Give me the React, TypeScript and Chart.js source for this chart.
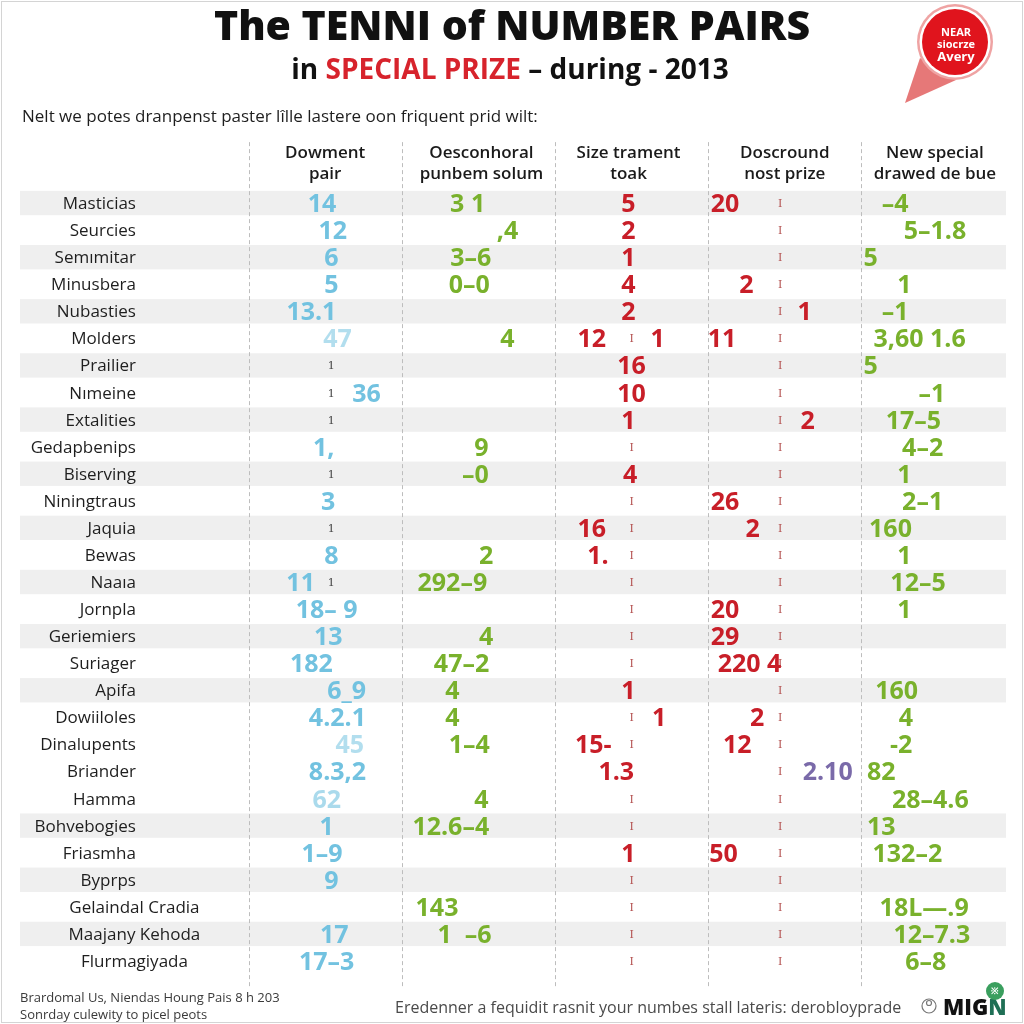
import React, { useEffect, useRef } from "react";
import { Chart, registerables } from "chart.js";

Chart.register(...registerables);

// ---------- data ----------
const rowLabels = [
  "Masticias", "Seurcies", "Semımitar", "Minusbera", "Nubasties", "Molders", "Prailier",
  "Nımeine", "Extalities", "Gedapbenips", "Biserving", "Niningtraus", "Jaquia", "Bewas",
  "Naaıa", "Jornpla", "Geriemiers", "Suriager", "Apifa", "Dowiiloles", "Dinalupents",
  "Briander", "Hamma", "Bohvebogies", "Friasmha", "Byprps", "Gelaindal Cradia",
  "Maajany Kehoda", "Flurmagiyada",
];
const centeredLabelRows = [26, 27, 28];
const bandRows = [0, 2, 4, 6, 8, 10, 12, 14, 16, 18, 23, 25, 27];

const columnHeaders = [
  ["Dowment", "pair"],
  ["Oesconhoral", "punbem solum"],
  ["Size trament", "toak"],
  ["Doscround", "nost prize"],
  ["New special", "drawed de bue"],
];
const headerPositions = [0.5, 1.52, 2.48, 3.5, 4.48];
const separatorPositions = [0, 1, 2, 3, 4];

// [row, position (column units), text, opacity]
type Cell = [number, number, string, number?];

const dowmentCells: Cell[] = [
  [0, 0.48, "14"], [1, 0.55, "12"], [2, 0.54, "6"], [3, 0.54, "5"], [4, 0.41, "13.1"],
  [5, 0.58, "47", 0.55], [7, 0.77, "36"], [9, 0.49, "1,"], [11, 0.52, "3"], [13, 0.54, "8"],
  [14, 0.34, "11"], [15, 0.51, "18– 9"], [16, 0.52, "13"], [17, 0.41, "182"],
  [18, 0.64, "6_9"], [19, 0.58, "4.2.1"], [20, 0.66, "45", 0.55], [21, 0.58, "8.3,2"],
  [22, 0.51, "62", 0.6], [23, 0.51, "1"], [24, 0.48, "1–9"], [25, 0.54, "9"],
  [27, 0.56, "17"], [28, 0.51, "17–3"],
];
const dowmentMarks: Cell[] = [
  [6, 0.54, "1"], [7, 0.54, "1"], [8, 0.54, "1"], [10, 0.54, "1"], [12, 0.54, "1"], [14, 0.54, "1"],
];

const oesconCells: Cell[] = [
  [0, 1.43, "3 1"], [1, 1.69, ",4"], [2, 1.45, "3–6"], [3, 1.44, "0–0"], [5, 1.69, "4"],
  [9, 1.52, "9"], [10, 1.48, "–0"], [13, 1.55, "2"], [14, 1.33, "292–9"], [16, 1.55, "4"],
  [17, 1.39, "47–2"], [18, 1.33, "4"], [19, 1.33, "4"], [20, 1.44, "1–4"], [22, 1.52, "4"],
  [23, 1.32, "12.6–4"], [26, 1.23, "143"], [27, 1.41, "1  –6"],
];

const sizeCells: Cell[] = [
  [0, 2.48, "5"], [1, 2.48, "2"], [2, 2.48, "1"], [3, 2.48, "4"], [4, 2.48, "2"],
  [5, 2.24, "12"], [5, 2.67, "1"], [6, 2.5, "16"], [7, 2.5, "10"], [8, 2.48, "1"],
  [10, 2.49, "4"], [12, 2.24, "16"], [13, 2.28, "1."], [18, 2.48, "1"], [19, 2.68, "1"],
  [20, 2.25, "15-"], [21, 2.4, "1.3"], [24, 2.48, "1"],
];
const sizeMarkRows = [5, 9, 11, 12, 13, 14, 15, 16, 17, 19, 20, 22, 23, 25, 26, 27, 28];

const doscroundCells: Cell[] = [
  [0, 3.11, "20"], [3, 3.25, "2"], [4, 3.63, "1"], [5, 3.09, "11"], [8, 3.65, "2"],
  [11, 3.11, "26"], [12, 3.29, "2"], [15, 3.11, "20"], [16, 3.11, "29"], [17, 3.27, "220 4"],
  [19, 3.32, "2"], [20, 3.19, "12"], [24, 3.1, "50"],
];
const doscroundMarkRows = rowLabels.map((_, i) => i);
const purpleCells: Cell[] = [[21, 3.78, "2.10"]];

const newSpecialCells: Cell[] = [
  [0, 4.22, "–4"], [1, 4.48, "5–1.8"], [2, 4.06, "5"], [3, 4.28, "1"], [4, 4.22, "–1"],
  [5, 4.38, "3,60 1.6"], [6, 4.06, "5"], [7, 4.46, "–1"], [8, 4.34, "17–5"], [9, 4.4, "4–2"],
  [10, 4.28, "1"], [11, 4.4, "2–1"], [12, 4.19, "160"], [13, 4.28, "1"], [14, 4.37, "12–5"],
  [15, 4.28, "1"], [18, 4.23, "160"], [19, 4.29, "4"], [20, 4.26, "-2"], [21, 4.13, "82"],
  [22, 4.45, "28–4.6"], [23, 4.13, "13"], [24, 4.3, "132–2"], [26, 4.41, "18L—.9"],
  [27, 4.46, "12–7.3"], [28, 4.42, "6–8"],
];

// ---------- styles ----------
const BLUE = "#72c2e0";
const GREEN = "#79b12c";
const RED = "#c81e28";
const PURPLE = "#7a6aa9";
const NUM_FONT = "bold 25px 'Open Sans'";
const MARK_FONT = "11px 'DejaVu Serif'";

const toPoints = (cells: Cell[]) =>
  cells.map(([r, p, t, a]) => ({ x: p, y: r, t, a: a ?? 1 }));
const marksFrom = (rows: number[], pos: number, t: string): Cell[] => rows.map((r) => [r, pos, t]);

const tablePlugin = {
  id: "tableText",
  beforeDraw(chart: any) {
    const { ctx } = chart;
    ctx.save();
    ctx.fillStyle = "#ffffff";
    ctx.fillRect(0, 0, chart.width, chart.height);
    ctx.restore();
  },
  beforeDatasetsDraw(chart: any) {
    const { ctx, chartArea } = chart;
    const x = chart.scales.x;
    const y = chart.scales.y;
    ctx.save();
    // frame
    ctx.strokeStyle = "#d4d4d4";
    ctx.lineWidth = 1;
    ctx.strokeRect(1.5, 1.5, chart.width - 3, chart.height - 3);

    // title
    ctx.fillStyle = "#111";
    ctx.textAlign = "center";
    ctx.textBaseline = "alphabetic";
    ctx.font = "800 41px 'Open Sans'";
    ctx.fillText("The TENNI of NUMBER PAIRS", 512, 40);

    // subtitle with red part
    ctx.font = "bold 28px 'Open Sans'";
    const parts: [string, string][] = [["in ", "#111"], ["SPECIAL PRIZE", "#d7232c"], [" – during - 2013", "#111"]];
    const total = parts.reduce((s, [t]) => s + ctx.measureText(t).width, 0);
    let sx = 510 - total / 2;
    ctx.textAlign = "left";
    parts.forEach(([t, c]) => {
      ctx.fillStyle = c;
      ctx.fillText(t, sx, 79);
      sx += ctx.measureText(t).width;
    });

    // badge
    ctx.fillStyle = "rgba(226, 96, 96, 0.85)";
    ctx.beginPath();
    ctx.moveTo(920, 58);
    ctx.lineTo(905, 103);
    ctx.lineTo(956, 80);
    ctx.closePath();
    ctx.fill();
    ctx.beginPath();
    ctx.arc(955, 42, 38, 0, Math.PI * 2);
    ctx.fillStyle = "#efa3a3";
    ctx.fill();
    ctx.beginPath();
    ctx.arc(955, 42, 35.5, 0, Math.PI * 2);
    ctx.fillStyle = "#ffffff";
    ctx.fill();
    ctx.beginPath();
    ctx.arc(955, 42, 33, 0, Math.PI * 2);
    ctx.fillStyle = "#e0141d";
    ctx.fill();
    ctx.fillStyle = "#fff";
    ctx.textAlign = "center";
    ctx.font = "bold 11px 'Open Sans'";
    ctx.fillText("NEAR", 956, 36);
    ctx.fillText("siocrze", 956, 48);
    ctx.font = "bold 13px 'Open Sans'";
    ctx.fillText("Avery", 956, 61);

    // note line
    ctx.fillStyle = "#1e1e1e";
    ctx.textAlign = "left";
    ctx.font = "17px 'Open Sans'";
    ctx.fillText("Nelt we potes dranpenst paster lîlle lastere oon friquent prid wilt:", 22, 122);

    // bands
    ctx.fillStyle = "#efefef";
    bandRows.forEach((r) => {
      const t = y.getPixelForValue(r - 0.45);
      const b = y.getPixelForValue(r + 0.45);
      ctx.fillRect(chartArea.left, Math.min(t, b), chartArea.right - chartArea.left, Math.abs(b - t));
    });

    // separators
    ctx.strokeStyle = "#bdbdbd";
    ctx.setLineDash([4, 3]);
    ctx.lineWidth = 1;
    separatorPositions.forEach((p) => {
      const px = Math.round(x.getPixelForValue(p)) + 0.5;
      ctx.beginPath();
      ctx.moveTo(px, y.getPixelForValue(-2.25));
      ctx.lineTo(px, y.getPixelForValue(28.96));
      ctx.stroke();
    });
    ctx.setLineDash([]);

    // headers
    ctx.fillStyle = "#1a1a1a";
    ctx.textAlign = "center";
    ctx.font = "600 17px 'Open Sans'";
    columnHeaders.forEach((lines, i) => {
      const px = x.getPixelForValue(headerPositions[i]);
      ctx.fillText(lines[0], px, y.getPixelForValue(-1.885) + 6);
      ctx.fillText(lines[1], px, y.getPixelForValue(-1.11) + 6);
    });

    // row labels
    ctx.font = "17px 'Open Sans'";
    ctx.fillStyle = "#1e1e1e";
    rowLabels.forEach((lab, i) => {
      const centered = centeredLabelRows.includes(i);
      ctx.textAlign = centered ? "center" : "right";
      ctx.fillText(lab, x.getPixelForValue(centered ? -0.745 : -0.735), y.getPixelForValue(i) + 6);
    });

    // footer
    ctx.textAlign = "left";
    ctx.fillStyle = "#3a3a3a";
    ctx.font = "13px 'Open Sans'";
    ctx.fillText("Brardomal Us, Niendas Houng Pais 8 h 203", 20, 1002);
    ctx.fillText("Sonrday culewity to picel peots", 20, 1019);
    ctx.fillStyle = "#4a4a4a";
    ctx.font = "16px 'Open Sans'";
    ctx.fillText("Eredenner a fequidit rasnit your numbes stall lateris: derobloyprade", 395, 1013);
    // logo
    ctx.strokeStyle = "#777";
    ctx.lineWidth = 1.2;
    ctx.beginPath();
    ctx.arc(929, 1006, 7, 0, Math.PI * 2);
    ctx.stroke();
    ctx.beginPath();
    ctx.arc(929, 1003, 2.5, 0, Math.PI * 2);
    ctx.stroke();
    ctx.font = "900 22px 'Open Sans'";
    ctx.fillStyle = "#111";
    ctx.fillText("MIG", 943, 1015);
    const mw = ctx.measureText("MIG").width;
    ctx.fillStyle = "#1f6f55";
    ctx.fillText("N", 943 + mw, 1015);
    ctx.beginPath();
    ctx.arc(995, 991, 9, 0, Math.PI * 2);
    ctx.fillStyle = "#3a9f5e";
    ctx.fill();
    ctx.fillStyle = "#fff";
    ctx.font = "bold 9px 'Open Sans'";
    ctx.textAlign = "center";
    ctx.fillText("※", 995, 994);
    ctx.restore();
  },
  afterDatasetsDraw(chart: any) {
    const { ctx } = chart;
    ctx.save();
    chart.data.datasets.forEach((ds: any, i: number) => {
      const meta = chart.getDatasetMeta(i);
      ctx.font = ds.textFont;
      ctx.fillStyle = ds.textColor;
      ctx.textAlign = "center";
      ctx.textBaseline = "alphabetic";
      meta.data.forEach((pt: any, j: number) => {
        const d = ds.data[j];
        ctx.globalAlpha = d.a;
        ctx.fillText(d.t, pt.x, pt.y + ds.baselineShift);
      });
      ctx.globalAlpha = 1;
    });
    ctx.restore();
  },
};

const mkSet = (label: string, cells: Cell[], color: string, font: string, shift: number) => ({
  label,
  data: toPoints(cells),
  textColor: color,
  textFont: font,
  baselineShift: shift,
  pointRadius: 0,
  pointHoverRadius: 0,
  showLine: false,
});

export default function App() {
  const ref = useRef<HTMLCanvasElement | null>(null);
  useEffect(() => {
    if (!ref.current) return;
    const chart = new Chart(ref.current, {
      type: "scatter",
      data: {
        datasets: [
          mkSet("Dowment marks", dowmentMarks, "#444", MARK_FONT, 4),
          mkSet("Size marks", marksFrom(sizeMarkRows, 2.5, "I"), "#b3504f", MARK_FONT, 4),
          mkSet("Doscround marks", marksFrom(doscroundMarkRows, 3.47, "I"), "#b3504f", MARK_FONT, 4),
          mkSet("Dowment pair", dowmentCells, BLUE, NUM_FONT, 9),
          mkSet("Oesconhoral punbem solum", oesconCells, GREEN, NUM_FONT, 9),
          mkSet("Size trament toak", sizeCells, RED, NUM_FONT, 9),
          mkSet("Doscround nost prize", doscroundCells, RED, NUM_FONT, 9),
          mkSet("Doscround extra", purpleCells, PURPLE, NUM_FONT, 9),
          mkSet("New special drawed de bue", newSpecialCells, GREEN, NUM_FONT, 9),
        ] as any,
      },
      options: {
        responsive: false,
        animation: false,
        events: [],
        layout: { padding: { left: 20, right: 18, top: 189.5, bottom: 49.5 } },
        scales: {
          x: { type: "linear", min: -1.492, max: 4.944, display: false },
          y: { type: "linear", min: -0.5, max: 28.5, reverse: true, display: false },
        },
        plugins: {
          legend: { display: false },
          tooltip: { enabled: false },
          title: { display: false },
        },
      },
      plugins: [tablePlugin],
    });
    return () => chart.destroy();
  }, []);
  return (
    <div style={{ position: "fixed", left: 0, top: 0, width: 1024, height: 1024, background: "#fff" }}>
      <canvas ref={ref} width={1024} height={1024} style={{ width: 1024, height: 1024, display: "block" }} />
    </div>
  );
}
